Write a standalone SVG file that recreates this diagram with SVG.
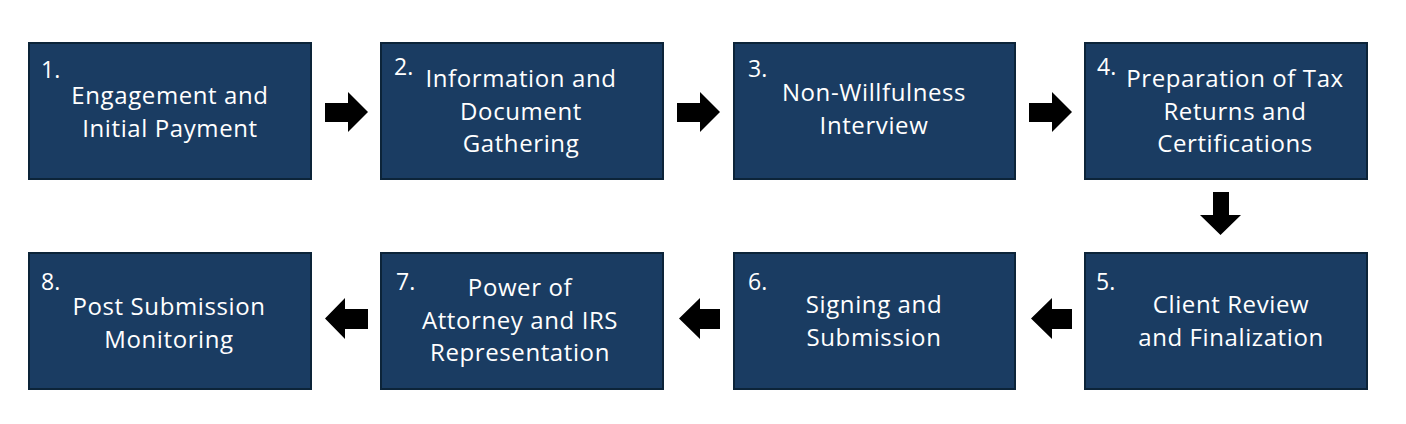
<svg xmlns="http://www.w3.org/2000/svg" width="1406" height="424" viewBox="0 0 1406 424">
<style>
.box{fill:#1a3c62;stroke:#0c2439;stroke-width:2}
.t{font-family:"Open Sans","Liberation Sans",sans-serif;font-size:24px;letter-spacing:0.6px;fill:#ffffff;text-anchor:middle}
.n{font-family:"Open Sans","Liberation Sans",sans-serif;font-size:23px;fill:#ffffff}
.arr{fill:#000000}
</style>
<rect width="1406" height="424" fill="#ffffff"/>
<g id="node1"><rect class="box" x="29" y="43" width="282" height="136"/><text class="n" x="41" y="78">1.</text><text class="t" x="170" y="104">Engagement and</text><text class="t" x="170" y="137">Initial Payment</text></g>
<g id="node2"><rect class="box" x="381" y="43" width="282" height="136"/><text class="n" x="394" y="75">2.</text><text class="t" x="521" y="87">Information and</text><text class="t" x="521" y="120">Document</text><text class="t" x="521" y="152">Gathering</text></g>
<g id="node3"><rect class="box" x="734" y="43" width="281" height="136"/><text class="n" x="748" y="77">3.</text><text class="t" x="874" y="101">Non-Willfulness</text><text class="t" x="874" y="134">Interview</text></g>
<g id="node4"><rect class="box" x="1085" y="43" width="282" height="136"/><text class="n" x="1097" y="75">4.</text><text class="t" x="1235" y="87">Preparation of Tax</text><text class="t" x="1235" y="120">Returns and</text><text class="t" x="1235" y="152">Certifications</text></g>
<g id="node5"><rect class="box" x="1085" y="253" width="282" height="136"/><text class="n" x="1096" y="290">5.</text><text class="t" x="1231" y="313">Client Review</text><text class="t" x="1231" y="346">and Finalization</text></g>
<g id="node6"><rect class="box" x="734" y="253" width="281" height="136"/><text class="n" x="748" y="290">6.</text><text class="t" x="874" y="313">Signing and</text><text class="t" x="874" y="346">Submission</text></g>
<g id="node7"><rect class="box" x="381" y="253" width="282" height="136"/><text class="n" x="396" y="290">7.</text><text class="t" x="520" y="296">Power of</text><text class="t" x="520" y="329">Attorney and IRS</text><text class="t" x="520" y="361">Representation</text></g>
<g id="node8"><rect class="box" x="29" y="253" width="282" height="136"/><text class="n" x="41" y="290">8.</text><text class="t" x="169" y="315">Post Submission</text><text class="t" x="169" y="348">Monitoring</text></g>
<g id="connectors">
<path class="arr" d="M325,103 H348 V92 L368,112 L348,132 V122 H325 Z"/>
<path class="arr" d="M677,103 H700 V92 L720,112 L700,132 V122 H677 Z"/>
<path class="arr" d="M1029,103 H1052 V92 L1072,112 L1052,132 V122 H1029 Z"/>
<path class="arr" d="M1213,192 V215 H1200 L1220.5,235 L1241,215 H1229 V192 Z"/>
<path class="arr" d="M1072,309 H1052 V298 L1031,318.5 L1052,339 V329 H1072 Z"/>
<path class="arr" d="M720,309 H700 V298 L679,318.5 L700,339 V329 H720 Z"/>
<path class="arr" d="M368,309 H345 V298 L325,318.5 L345,339 V329 H368 Z"/>
</g>
</svg>
